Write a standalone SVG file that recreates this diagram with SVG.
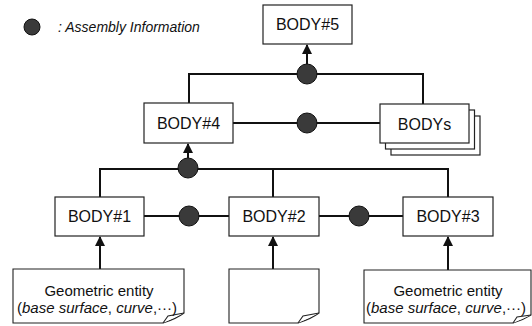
<svg xmlns="http://www.w3.org/2000/svg" width="532" height="326" viewBox="0 0 532 326">
<defs>
<style>
.box{fill:#fff;stroke:#222;stroke-width:1.2}
.lbl{font-family:"Liberation Sans",Arial,sans-serif;font-size:16px;fill:#111;text-anchor:middle}
.note{font-family:"Liberation Sans",Arial,sans-serif;font-size:15px;fill:#111;text-anchor:middle}
.con{fill:none;stroke:#111;stroke-width:2}
.dot{fill:#3a3a3a;stroke:#111;stroke-width:1}
.arr{fill:none;stroke:#111;stroke-width:2;marker-end:url(#ah)}
.nt{fill:#fff;stroke:#222;stroke-width:1.1}
</style>
<marker id="ah" viewBox="0 0 10 10" refX="9" refY="5" markerWidth="5" markerHeight="5" orient="auto" markerUnits="strokeWidth">
<path d="M0,0 L10,5 L0,10 z" fill="#111"/>
</marker>
</defs>
<rect width="532" height="326" fill="#fff"/>
<g id="legend">
<circle class="dot" cx="32" cy="27" r="8"/>
<text x="58" y="32" font-family="'Liberation Sans',Arial,sans-serif" font-size="14" font-style="italic" fill="#111">: Assembly Information</text>
</g>
<g id="connectors">
<path class="con" d="M189,103 V74 H423 V104"/>
<path class="con" d="M233,123 H380"/>
<path class="con" d="M100,197 V169 H448 V197 M273,169 V197"/>
<path class="con" d="M144,216 H229 M319,216 H403"/>
<path class="arr" d="M307,64 V45"/>
<path class="arr" d="M188,158 V144"/>
<path class="arr" d="M100,269 V237"/>
<path class="arr" d="M273,269 V237"/>
<path class="arr" d="M448,270 V237"/>
<circle class="dot" cx="307" cy="74" r="10"/>
<circle class="dot" cx="307" cy="123" r="10"/>
<circle class="dot" cx="188" cy="168" r="10"/>
<circle class="dot" cx="189" cy="216" r="10"/>
<circle class="dot" cx="359" cy="216" r="10"/>
</g>
<g id="body5">
<rect class="box" x="263" y="5" width="89" height="39"/>
<text class="lbl" x="307.5" y="30">BODY#5</text>
</g>
<g id="body4">
<rect class="box" x="144" y="103" width="89" height="40"/>
<text class="lbl" x="188.5" y="129">BODY#4</text>
</g>
<g id="bodys">
<rect class="box" x="391" y="116" width="89" height="39"/>
<rect class="box" x="385.5" y="110" width="89" height="39"/>
<rect class="box" x="380" y="104" width="89" height="39"/>
<text class="lbl" x="424.5" y="130">BODYs</text>
</g>
<g id="body1">
<rect class="box" x="55" y="197" width="89" height="39"/>
<text class="lbl" x="99.5" y="222">BODY#1</text>
</g>
<g id="body2">
<rect class="box" x="229" y="197" width="90" height="39"/>
<text class="lbl" x="274" y="222">BODY#2</text>
</g>
<g id="body3">
<rect class="box" x="403" y="197" width="90" height="39"/>
<text class="lbl" x="448" y="222">BODY#3</text>
</g>
<g id="note1">
<path class="nt" d="M13,269 H184 V313 Q176,319 163,323 H13 Z"/>
<path class="nt" d="M184,313 L168,316 L163,323"/>
<text class="note" x="99" y="296">Geometric entity</text>
<text class="note" x="97" y="313">(<tspan font-style="italic">base surface</tspan>, <tspan font-style="italic">curve</tspan>,···)</text>
</g>
<g id="note2">
<path class="nt" d="M229,269 H319 V313 Q311,319 298,323 H229 Z"/>
<path class="nt" d="M319,313 L303,316 L298,323"/>
</g>
<g id="note3">
<path class="nt" d="M364,270 H531 V315 Q523,320 513,323 H364 Z"/>
<path class="nt" d="M531,315 L517,317 L513,323"/>
<text class="note" x="448" y="296">Geometric entity</text>
<text class="note" x="446" y="313">(<tspan font-style="italic">base surface</tspan>, <tspan font-style="italic">curve</tspan>,···)</text>
</g>
</svg>
